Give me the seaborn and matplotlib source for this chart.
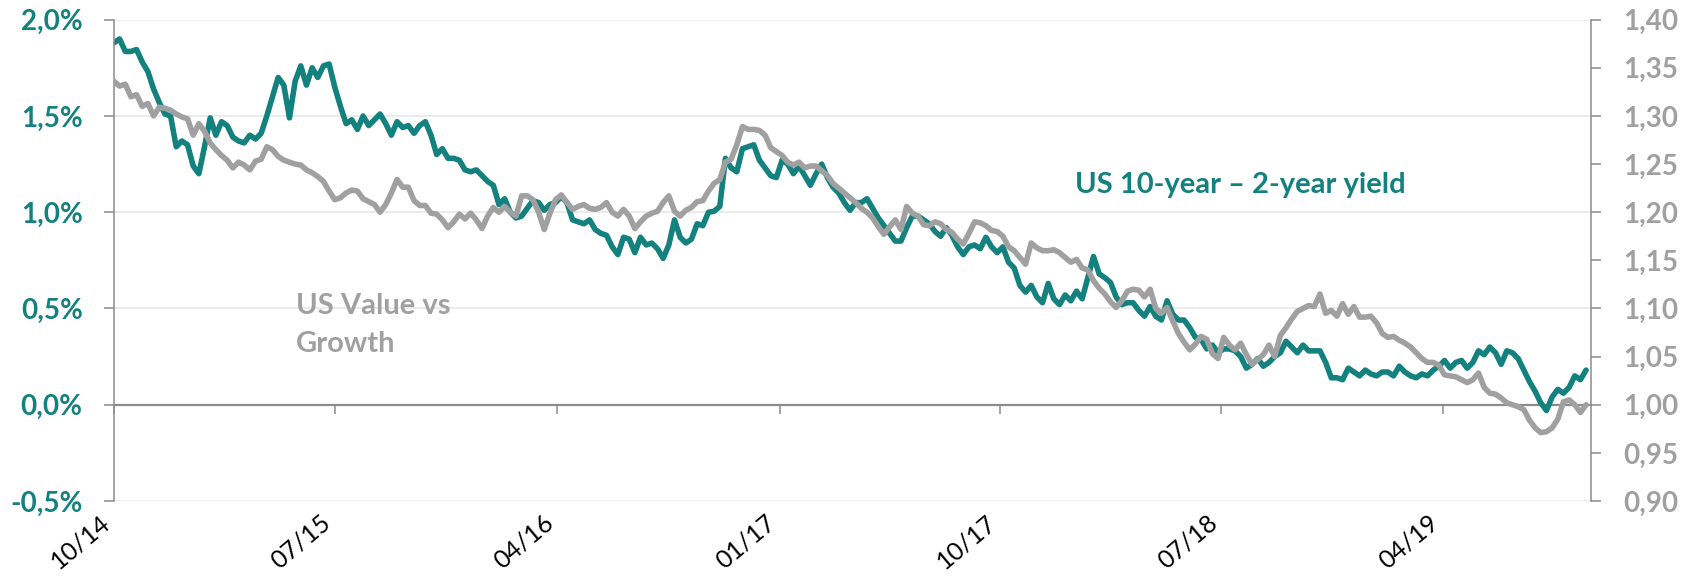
import numpy as np
import pandas as pd
import matplotlib
matplotlib.use("Agg")
import matplotlib.pyplot as plt
import seaborn as sns
import matplotlib.dates as mdates
from matplotlib.ticker import FixedLocator

# ---------------- data (weekly readings) ----------------
start_date = "2014-10-01"

spread_10y_2y = [
    1.88, 1.90, 1.835, 1.835, 1.845, 1.78, 1.73, 1.64, 1.57, 1.51,
    1.50, 1.34, 1.37, 1.35, 1.24, 1.20, 1.34, 1.49, 1.40, 1.47,
    1.45, 1.39, 1.37, 1.36, 1.40, 1.38, 1.41, 1.50, 1.60, 1.70,
    1.66, 1.49, 1.68, 1.76, 1.66, 1.75, 1.70, 1.76, 1.77, 1.65,
    1.55, 1.46, 1.48, 1.43, 1.50, 1.45, 1.48, 1.51, 1.46, 1.40,
    1.47,
    1.44, 1.45, 1.41, 1.45, 1.47, 1.40, 1.30, 1.33, 1.28, 1.28,
    1.27, 1.22, 1.21, 1.22, 1.19, 1.16, 1.14, 1.04, 1.07, 1.00,
    0.97, 0.98, 1.02, 1.06, 1.05, 1.01, 1.04, 1.05, 1.08, 1.05,
    0.96, 0.95, 0.94, 0.96, 0.91, 0.89, 0.88, 0.82, 0.78, 0.87,
    0.86, 0.79, 0.87, 0.83, 0.84, 0.81, 0.76, 0.83, 0.96, 0.87,
    0.84,
    0.86, 0.94, 0.93, 1.00, 1.005, 1.03, 1.28, 1.23, 1.21, 1.33,
    1.34, 1.35, 1.27, 1.23, 1.19, 1.18, 1.27, 1.25, 1.20, 1.24,
    1.19, 1.14, 1.20, 1.25, 1.18, 1.13, 1.10, 1.05, 1.01, 1.05,
    1.05, 1.07, 1.02, 0.97, 0.93, 0.89, 0.85, 0.85, 0.92, 0.98,
    0.98, 0.96, 0.94, 0.90, 0.875, 0.92, 0.88, 0.82, 0.78, 0.82,
    0.83,
    0.81, 0.87, 0.82, 0.79, 0.82, 0.74, 0.71, 0.62, 0.585, 0.62,
    0.56, 0.53, 0.63, 0.55, 0.52, 0.57, 0.54, 0.59, 0.55, 0.66,
    0.77, 0.68, 0.66, 0.635, 0.56, 0.52, 0.53, 0.53, 0.49, 0.46,
    0.51, 0.46, 0.44, 0.54, 0.47, 0.44, 0.44, 0.40, 0.35, 0.34,
    0.29, 0.31, 0.27, 0.29, 0.29, 0.28, 0.25, 0.19, 0.21, 0.24,
    0.20,
    0.22, 0.25, 0.27, 0.33, 0.30, 0.27, 0.31, 0.28, 0.28, 0.28,
    0.22, 0.14, 0.14, 0.13, 0.19, 0.17, 0.15, 0.18, 0.16, 0.15,
    0.17, 0.17, 0.15, 0.20, 0.17, 0.15, 0.14, 0.16, 0.15, 0.18,
    0.20, 0.23, 0.19, 0.22, 0.23, 0.19, 0.22, 0.28, 0.26, 0.30,
    0.27, 0.21, 0.28, 0.27, 0.24, 0.18, 0.12, 0.07, 0.01, -0.03,
    0.04, 0.08, 0.06, 0.09, 0.15, 0.13, 0.18,
]

value_vs_growth = [
    1.336, 1.331, 1.333, 1.320, 1.322, 1.310, 1.313, 1.300, 1.309, 1.308,
    1.306, 1.302, 1.299, 1.297, 1.280, 1.292, 1.284, 1.272, 1.265, 1.259,
    1.254, 1.246, 1.252, 1.249, 1.244, 1.253, 1.255, 1.268, 1.265, 1.258,
    1.254, 1.252, 1.250, 1.249, 1.244, 1.241, 1.237, 1.232, 1.222, 1.213,
    1.215, 1.220, 1.223, 1.222, 1.214, 1.211, 1.208, 1.200, 1.208, 1.220,
    1.234,
    1.226, 1.226, 1.212, 1.207, 1.207, 1.199, 1.198, 1.192, 1.184, 1.190,
    1.198, 1.193, 1.199, 1.192, 1.183, 1.196, 1.205, 1.200, 1.206, 1.200,
    1.196, 1.217, 1.217, 1.213, 1.200, 1.182, 1.199, 1.213, 1.218, 1.210,
    1.203, 1.206, 1.208, 1.204, 1.203, 1.205, 1.210, 1.200, 1.196, 1.203,
    1.196, 1.183, 1.190, 1.196, 1.199, 1.201, 1.210, 1.217, 1.201, 1.196,
    1.202,
    1.205, 1.211, 1.212, 1.222, 1.230, 1.234, 1.252, 1.255, 1.270, 1.289,
    1.286, 1.286, 1.285, 1.280, 1.267, 1.263, 1.259, 1.252, 1.249, 1.252,
    1.246, 1.248, 1.248, 1.243, 1.238, 1.230, 1.225, 1.220, 1.215, 1.210,
    1.204, 1.200, 1.194, 1.185, 1.177, 1.185, 1.192, 1.182, 1.206, 1.199,
    1.196, 1.187, 1.186, 1.190, 1.188, 1.182, 1.179, 1.172, 1.167, 1.178,
    1.190,
    1.189, 1.186, 1.181, 1.180, 1.175, 1.164, 1.160, 1.153, 1.146, 1.168,
    1.163, 1.160, 1.160, 1.161, 1.158, 1.153, 1.148, 1.151, 1.142, 1.140,
    1.129, 1.121, 1.115, 1.107, 1.101, 1.108, 1.118, 1.120, 1.119, 1.112,
    1.120, 1.100, 1.095, 1.101, 1.087, 1.074, 1.065, 1.057, 1.063, 1.071,
    1.068, 1.053, 1.048, 1.070, 1.062, 1.057, 1.064, 1.052, 1.042, 1.047,
    1.052,
    1.062, 1.050, 1.072, 1.080, 1.089, 1.097, 1.100, 1.103, 1.102, 1.115,
    1.095, 1.098, 1.092, 1.105, 1.094, 1.102, 1.091, 1.091, 1.092, 1.085,
    1.074, 1.070, 1.071, 1.067, 1.064, 1.060, 1.054, 1.048, 1.044, 1.044,
    1.041, 1.031, 1.030, 1.029, 1.026, 1.023, 1.026, 1.033, 1.018, 1.012,
    1.011, 1.007, 1.002, 1.000, 0.998, 0.995, 0.984, 0.976, 0.971, 0.972,
    0.976, 0.985, 1.003, 1.005, 1.000, 0.992, 1.000,
]

x_tick_dates = ["2014-10-01", "2015-07-01", "2016-04-01", "2017-01-01",
                "2017-10-01", "2018-07-01", "2019-04-01"]
x_limits = ["2014-10-01", "2019-10-01"]
left_ticks = [-0.5, 0.0, 0.5, 1.0, 1.5, 2.0]
right_ticks = [0.90, 0.95, 1.00, 1.05, 1.10, 1.15, 1.20, 1.25, 1.30, 1.35, 1.40]

label_spread = "US 10-year \u2013 2-year yield"
label_value = "US Value vs\nGrowth"

# ---------------- style ----------------
TEAL = "#13827F"
GREY = "#A0A0A0"
AXIS = "#8C8C8C"
GRID = "#E6E6E6"

sns.set_theme(style="white")
plt.rcParams["font.family"] = ["Lato", "DejaVu Sans"]

dates = pd.date_range(start_date, periods=len(spread_10y_2y), freq="7D")
df = pd.DataFrame({"date": dates, "spread": spread_10y_2y, "vg": value_vs_growth})

fig = plt.figure(figsize=(16.88, 5.84), dpi=100)
ax = fig.add_axes([0.0675, 0.1421, 0.875, 0.8242])
ax2 = ax.twinx()

sns.lineplot(data=df, x="date", y="spread", ax=ax, color=TEAL, linewidth=4.0)
sns.lineplot(data=df, x="date", y="vg", ax=ax2, color=GREY, linewidth=4.0)

# limits
ax.set_xlim(pd.Timestamp(x_limits[0]), pd.Timestamp(x_limits[1]))
ax.set_ylim(left_ticks[0], left_ticks[-1])
ax2.set_ylim(right_ticks[0], right_ticks[-1])

# left axis
ax.set_yticks(left_ticks, labels=[f"{v:.1f}%".replace(".", ",") for v in left_ticks],
              fontweight="bold", fontsize=20, color=TEAL)
ax.tick_params(axis="y", which="major", left=True, length=7.5, width=1.1, color=AXIS,
               direction="out", pad=15)
ax.grid(axis="y", color=GRID, linewidth=1.1)
ax.grid(axis="x", visible=False)

# right axis
ax2.set_yticks(right_ticks, labels=[f"{v:.2f}".replace(".", ",") for v in right_ticks],
               fontweight="bold", fontsize=20, color=GREY)
ax2.tick_params(axis="y", which="major", right=True, length=7, width=1.1, color=AXIS,
                direction="out", pad=16)
ax2.grid(False)

# spines
for a in (ax, ax2):
    for s in ("top", "left", "right", "bottom"):
        a.spines[s].set_visible(False)
    a.set_xlabel("")
    a.set_ylabel("")
ax.spines["left"].set_visible(True)
ax.spines["left"].set_color(AXIS)
ax.spines["left"].set_linewidth(1.1)
ax2.spines["right"].set_visible(True)
ax2.spines["right"].set_color(AXIS)
ax2.spines["right"].set_linewidth(1.1)

# zero line as x axis with tick marks
ax.spines["bottom"].set_visible(True)
ax.spines["bottom"].set_position(("data", 0))
ax.spines["bottom"].set_color(AXIS)
ax.spines["bottom"].set_linewidth(1.6)
ax.spines["bottom"].set_zorder(1)
tick_dates = [pd.Timestamp(d) for d in x_tick_dates]
tick_nums = mdates.date2num(tick_dates)
ax.xaxis.set_major_locator(FixedLocator(tick_nums))
ax.tick_params(axis="x", which="major", bottom=True, length=6.5, width=1.1, color=AXIS,
               direction="out", labelbottom=False)

# date labels at the bottom
sec = ax.secondary_xaxis("bottom")
sec.set_xticks(tick_nums, labels=[d.strftime("%m/%y") for d in tick_dates],
               rotation=40, ha="right", fontsize=18, color="black")
sec.tick_params(axis="x", length=0, pad=7)
sec.spines["bottom"].set_visible(False)

# annotations
ax.text(0.651, 0.6406, label_spread, transform=ax.transAxes, color=TEAL,
        fontsize=21, fontweight="bold", ha="left", va="baseline")
ax.text(0.1232, 0.3096, label_value, transform=ax.transAxes, color=GREY,
        fontsize=21, fontweight="bold", ha="left", va="baseline", linespacing=1.55)

fig.savefig("out.png", dpi=100)
